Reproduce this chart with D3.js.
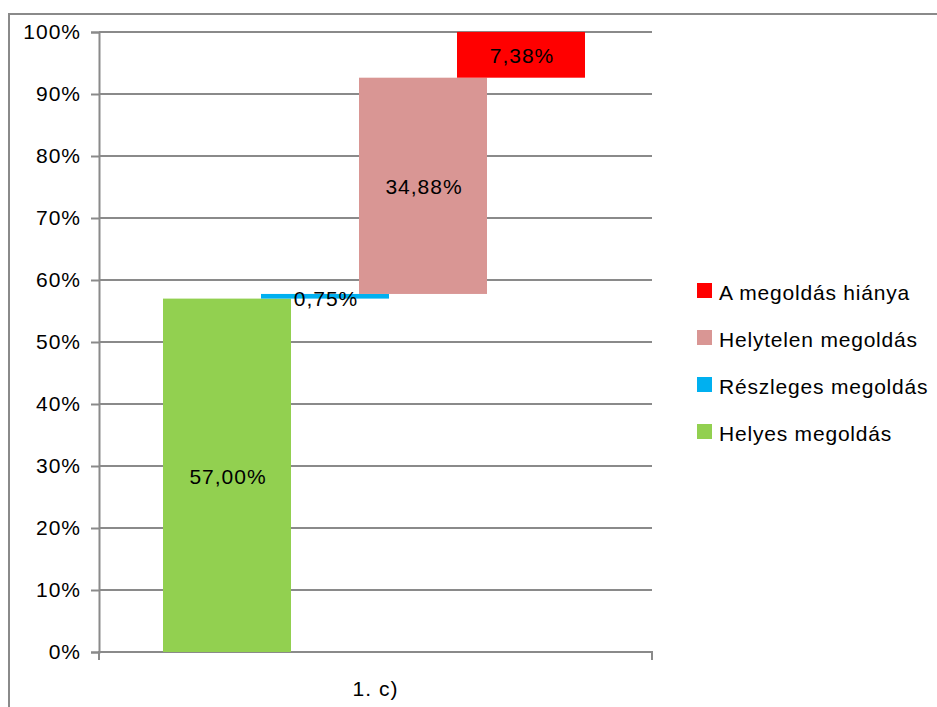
<!DOCTYPE html>
<html>
<head>
<meta charset="utf-8">
<script src="https://cdn.jsdelivr.net/npm/d3@7"></script>
<style>
  html, body { margin: 0; padding: 0; background: #fff; }
  svg { display: block; }
  text { font-family: "Liberation Sans", Arial, sans-serif; fill: #000; }
</style>
</head>
<body>
<svg id="chart" width="937" height="707"></svg>
<script>
const categories = ["Helyes megoldás", "Részleges megoldás", "Helytelen megoldás", "A megoldás hiánya"];
const values = [57.00, 0.75, 34.88, 7.38];
const colors = ["#92D050", "#00B0F0", "#D99694", "#FF0000"];
const labels = ["57,00%", "0,75%", "34,88%", "7,38%"];
const yTicks = [0, 10, 20, 30, 40, 50, 60, 70, 80, 90, 100];
const xCategory = "1. c)";

const FONT = "Liberation Sans";
const FS = 21;
const svg = d3.select("#chart");

// outer chart border
svg.append("rect").attr("x", 9).attr("y", 14).attr("width", 940).attr("height", 720)
  .attr("fill", "none").attr("stroke", "#8a8a8a").attr("stroke-width", 2);

const plotL = 99, plotR = 652, plotT = 32, plotB = 652;
const y = d3.scaleLinear().domain([0, 100]).range([plotB, plotT]);
const x = d3.scaleLinear().domain([0, 3]).range([227, 521]);
const barW = 128;

// gridlines
svg.append("g").selectAll("line").data(yTicks).join("line")
  .attr("x1", plotL).attr("x2", plotR)
  .attr("y1", d => y(d)).attr("y2", d => y(d))
  .attr("stroke", "#8a8a8a").attr("stroke-width", 2);

// y axis
const yAxis = d3.axisLeft(y).tickValues(yTicks).tickSize(8).tickPadding(10)
  .tickFormat(d => d + "%");
const gy = svg.append("g").attr("transform", `translate(${plotL},0)`).call(yAxis);
gy.select(".domain").attr("stroke", "#8a8a8a").attr("stroke-width", 2);
gy.selectAll(".tick line").attr("stroke", "#8a8a8a").attr("stroke-width", 2);
gy.selectAll(".tick text").attr("font-size", FS).attr("letter-spacing", 1)
  .attr("font-family", FONT).attr("fill", "#000");

// x axis
const xb = d3.scaleBand().domain([xCategory]).range([plotL, plotR]);
const xAxis = d3.axisBottom(xb).tickSize(0).tickPadding(29);
const gx = svg.append("g").attr("transform", `translate(0,${plotB})`).call(xAxis);
gx.select(".domain").attr("stroke", "#8a8a8a").attr("stroke-width", 2)
  .attr("d", `M${plotL},8V0H${plotR}V8`);
gx.selectAll(".tick text").attr("font-size", FS).attr("letter-spacing", 1)
  .attr("font-family", FONT).attr("fill", "#000");

// waterfall bars
const bases = values.map((v, i) => d3.sum(values.slice(0, i)));
const bars = svg.append("g");
bars.selectAll("rect").data(values).join("rect")
  .attr("x", (d, i) => x(i) - barW / 2)
  .attr("width", barW)
  .attr("y", (d, i) => y(bases[i] + d))
  .attr("height", (d, i) => y(bases[i]) - y(bases[i] + d))
  .attr("fill", (d, i) => colors[i]);

bars.selectAll("text").data(values).join("text")
  .attr("x", (d, i) => x(i) + 1)
  .attr("y", (d, i) => y(bases[i] + d / 2) + (i === 1 ? 2 : 1))
  .attr("text-anchor", "middle").attr("dominant-baseline", "central")
  .attr("font-size", FS).attr("letter-spacing", 1)
  .text((d, i) => labels[i]);

// legend (reverse order)
const legendOrder = [3, 2, 1, 0];
const lg = svg.append("g");
legendOrder.forEach((idx, k) => {
  const cy = 291 + k * 47;
  lg.append("rect").attr("x", 697).attr("y", cy - 8).attr("width", 15).attr("height", 15)
    .attr("fill", colors[idx]);
  lg.append("text").attr("x", 719).attr("y", cy + 1).attr("dominant-baseline", "central")
    .attr("font-size", FS).attr("letter-spacing", 0.8).text(categories[idx]);
});
</script>
</body>
</html>
